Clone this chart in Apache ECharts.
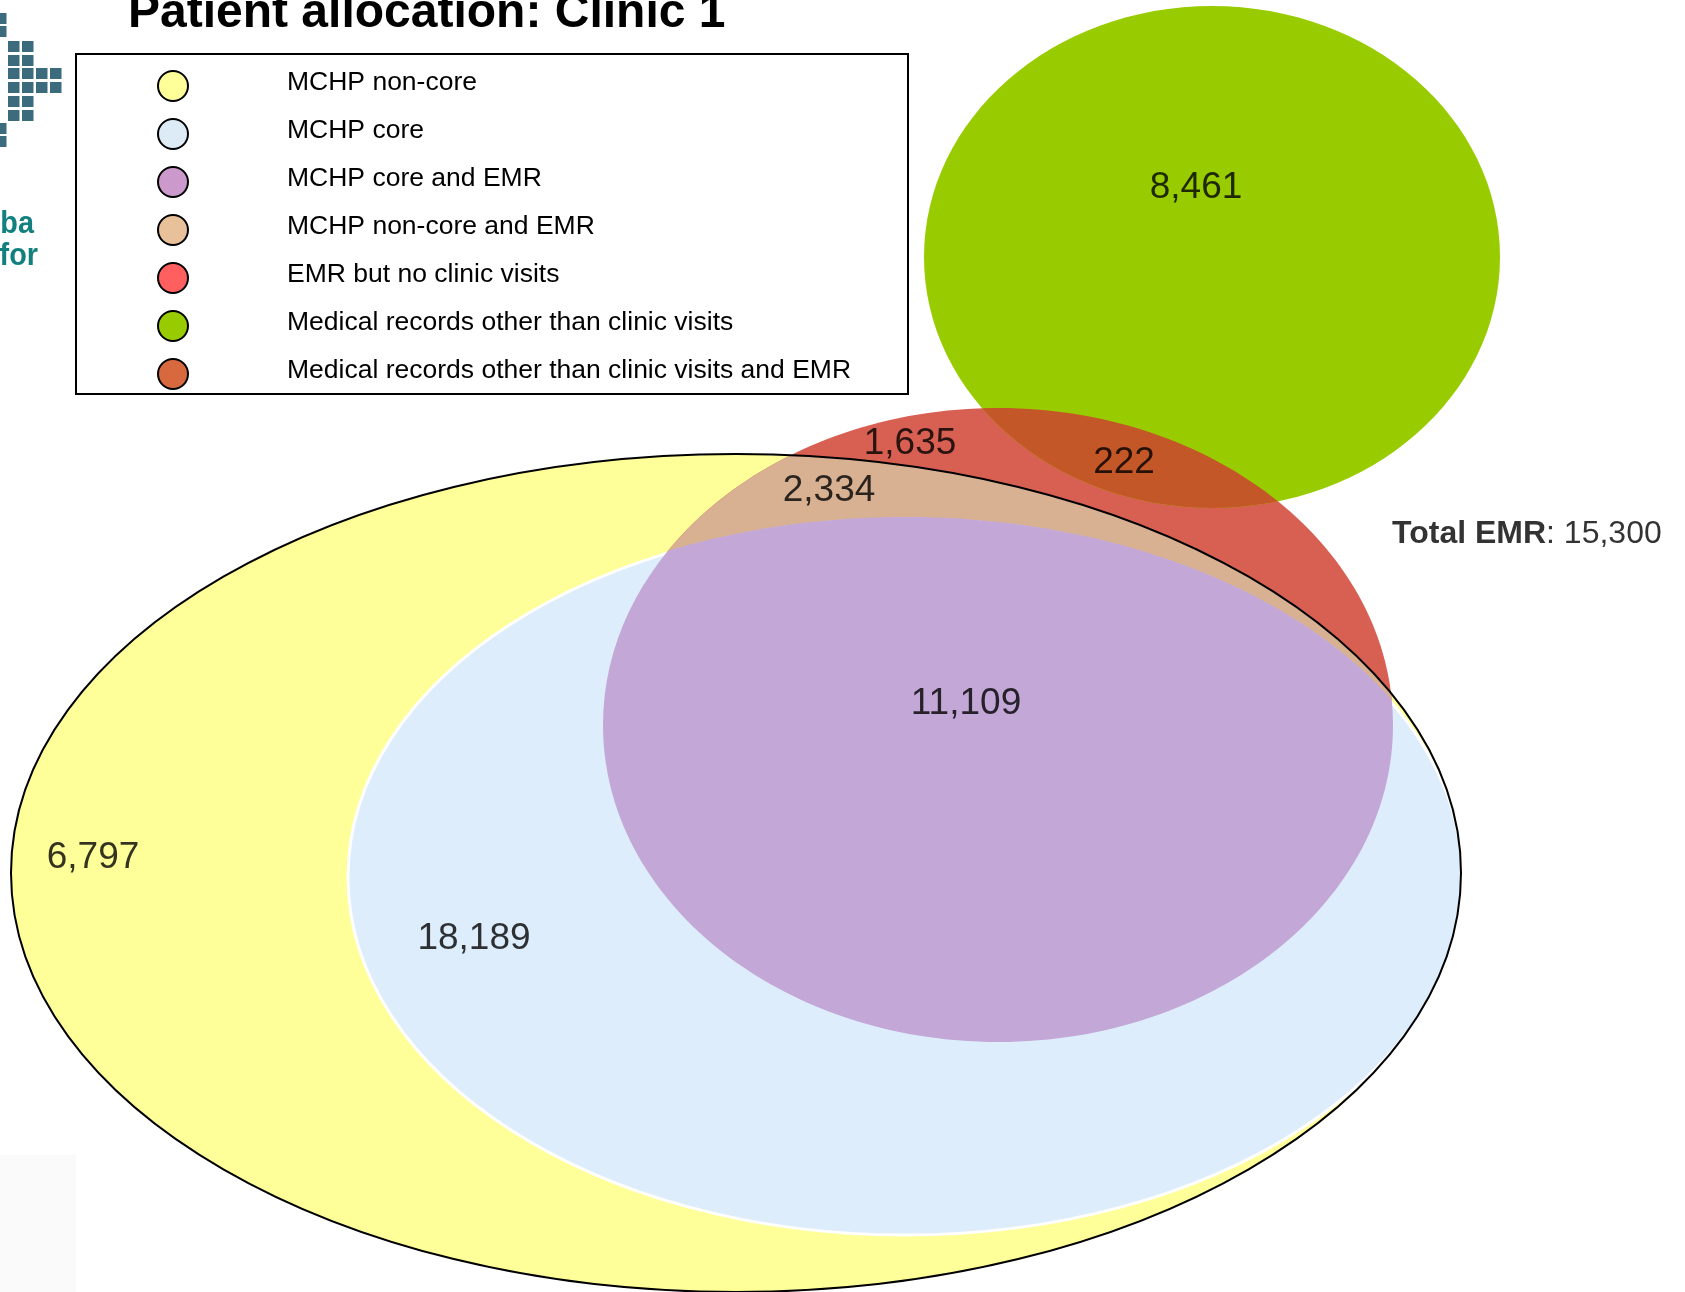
<!DOCTYPE html>
<html>
<head>
<meta charset="utf-8">
<title>Patient allocation: Clinic 1</title>
<script src="https://cdn.jsdelivr.net/npm/echarts@6/dist/echarts.min.js"></script>
<style>
  html, body { margin: 0; padding: 0; background: #fff; }
  #chart { width: 1685px; height: 1292px; }
</style>
</head>
<body>
<div id="chart"></div>
<script>
// 各区域名称（图例顺序）和人数
const regionNames = [
  'MCHP non-core',
  'MCHP core',
  'MCHP core and EMR',
  'MCHP non-core and EMR',
  'EMR but no clinic visits',
  'Medical records other than clinic visits',
  'Medical records other than clinic visits and EMR'
];
const regionCounts = [6797, 18189, 11109, 2334, 1635, 8461, 222];
const totalEMR = 15300;
const titleText = 'Patient allocation: Clinic 1';

const FONT = '"Liberation Sans", Arial, sans-serif';

// 椭圆布局 [cx, cy, rx, ry]，画布坐标单位
const ellipseLayout = {
  nonCore: [736, 873, 725, 419],
  core: [905, 877, 557, 358],
  emr: [998, 725, 395, 317],
  other: [1212, 257, 288, 251]
};
// 数字标签位置，顺序同 regionNames
const labelLayout = [[93, 858], [474, 939], [966, 704], [829, 491], [910, 444], [1196, 188], [1124, 463]];

// 每个区域怎么画：底椭圆、裁剪椭圆、填充色、层级
const regionStyle = [
  { base: 'nonCore', fill: '#FFFF99', z: 1 },
  { base: 'core', fill: '#DEEDFB', stroke: '#fff', lineWidth: 3, z: 4 },
  { base: 'emr', clip: 'core', grow: 2, fill: '#C3A7D6', z: 5 },
  { base: 'emr', clip: 'nonCore', fill: '#D8B193', z: 3 },
  { base: 'emr', fill: '#D86052', z: 2 },
  { base: 'other', fill: '#99CC00', z: 6 },
  { base: 'emr', clip: 'other', fill: '#C45727', z: 7 }
];
const legendColors = ['#FFFF99', '#DDEBF7', '#CC99CC', '#E8C09A', '#FF5F5F', '#99CC00', '#D8693F'];

function ellipseShape(api, key, grow) {
  const e = ellipseLayout[key];
  const c = api.coord([e[0], e[1]]);
  const s = api.size([e[2], e[3]]);
  return { cx: c[0], cy: c[1], rx: s[0] + (grow || 0), ry: s[1] + (grow || 0) };
}

const regionSeries = regionNames.map((name, i) => {
  const st = regionStyle[i];
  return {
    type: 'custom',
    name: name,
    z: st.z,
    silent: true,
    itemStyle: { color: legendColors[i] },
    data: [[0, 0]],
    renderItem: function (params, api) {
      const el = {
        type: 'ellipse',
        shape: ellipseShape(api, st.base),
        style: {
          fill: st.fill,
          stroke: st.stroke || null,
          lineWidth: st.lineWidth || 0
        }
      };
      if (st.clip) {
        el.clipPath = { type: 'ellipse', shape: ellipseShape(api, st.clip, st.grow) };
      }
      return el;
    }
  };
});

// MCHP 外框黑线放最上层
const outlineSeries = {
  type: 'custom',
  z: 8,
  silent: true,
  data: [[0, 0]],
  renderItem: function (params, api) {
    return {
      type: 'ellipse',
      shape: ellipseShape(api, 'nonCore'),
      style: { fill: null, stroke: '#000', lineWidth: 2 }
    };
  }
};

const labelData = regionCounts.map((v, i) => [labelLayout[i][0], labelLayout[i][1], v]);
labelData.push({
  value: [1392, 534, totalEMR],
  label: {
    align: 'left',
    formatter: p => '{b|Total EMR}{r|: ' + p.value[2].toLocaleString('en-US') + '}',
    rich: {
      b: { fontSize: 32, fontWeight: 'bold', color: '#000', fontFamily: FONT },
      r: { fontSize: 32, color: '#000', fontFamily: FONT }
    }
  }
});

const labelSeries = {
  type: 'scatter',
  z: 10,
  silent: true,
  symbolSize: 1,
  itemStyle: { color: 'rgba(0,0,0,0)' },
  data: labelData,
  label: {
    show: true,
    position: 'inside',
    color: '#000',
    fontSize: 37,
    fontFamily: FONT,
    formatter: p => p.value[2].toLocaleString('en-US')
  }
};

// 左上角标志方块（装饰）
const logoCells = [
  [-5, 13], [-5, 26], [-5, 123], [-5, 136],
  [8, 41], [22, 41], [8, 55], [22, 55], [8, 68], [22, 68], [36, 68], [50, 68],
  [8, 82], [22, 82], [36, 82], [50, 82], [8, 96], [22, 96], [8, 110], [22, 110]
];

const chart = echarts.init(document.getElementById('chart'));
chart.setOption({
  backgroundColor: '#fff',
  animation: false,
  title: {
    text: titleText,
    left: 128,
    top: -10,
    padding: 0,
    textStyle: { fontSize: 48, fontWeight: 'bold', color: '#000', fontFamily: FONT }
  },
  legend: {
    data: regionNames.map((n, i) => ({ name: n, itemStyle: { color: legendColors[i] } })),
    orient: 'vertical',
    left: 157,
    top: 69,
    padding: 0,
    itemWidth: 30,
    itemHeight: 32,
    itemGap: 15,
    icon: 'circle',
    selectedMode: false,
    itemStyle: { borderColor: '#000', borderWidth: 2 },
    formatter: n => '{t|' + n + '}',
    textStyle: {
      fontSize: 26.5, color: '#000', fontFamily: FONT, padding: [0, 0, 0, 94],
      rich: { t: { fontSize: 26.5, color: '#000', fontFamily: FONT, padding: [0, 0, 7, 0] } }
    }
  },
  grid: { left: 0, right: 0, top: 0, bottom: 0 },
  xAxis: { type: 'value', min: 0, max: 1685, show: false },
  yAxis: { type: 'value', min: 0, max: 1292, inverse: true, show: false },
  graphic: [
    {
      type: 'rect',
      shape: { x: 76, y: 54, width: 832, height: 340 },
      style: { fill: null, stroke: '#000', lineWidth: 2 },
      z: 20
    },
    {
      type: 'group',
      children: logoCells.map(c => ({
        type: 'rect',
        shape: { x: c[0], y: c[1], width: 11.5, height: 11 },
        style: { fill: '#3C6B7E' }
      }))
    },
    {
      type: 'text', x: 34, y: 224, scaleX: 0.93,
      style: { text: 'ba', fontSize: 31, fontWeight: 'bold', fill: '#12807F', fontFamily: FONT, align: 'right', verticalAlign: 'middle' }
    },
    {
      type: 'text', x: 38, y: 256, scaleX: 0.93,
      style: { text: 'for', fontSize: 31, fontWeight: 'bold', fill: '#12807F', fontFamily: FONT, align: 'right', verticalAlign: 'middle' }
    },
    {
      type: 'rect',
      shape: { x: 0, y: 1155, width: 76, height: 137 },
      style: { fill: '#FAFAFA' },
      z: -1
    }
  ],
  series: regionSeries.concat([outlineSeries, labelSeries])
});
</script>
</body>
</html>
